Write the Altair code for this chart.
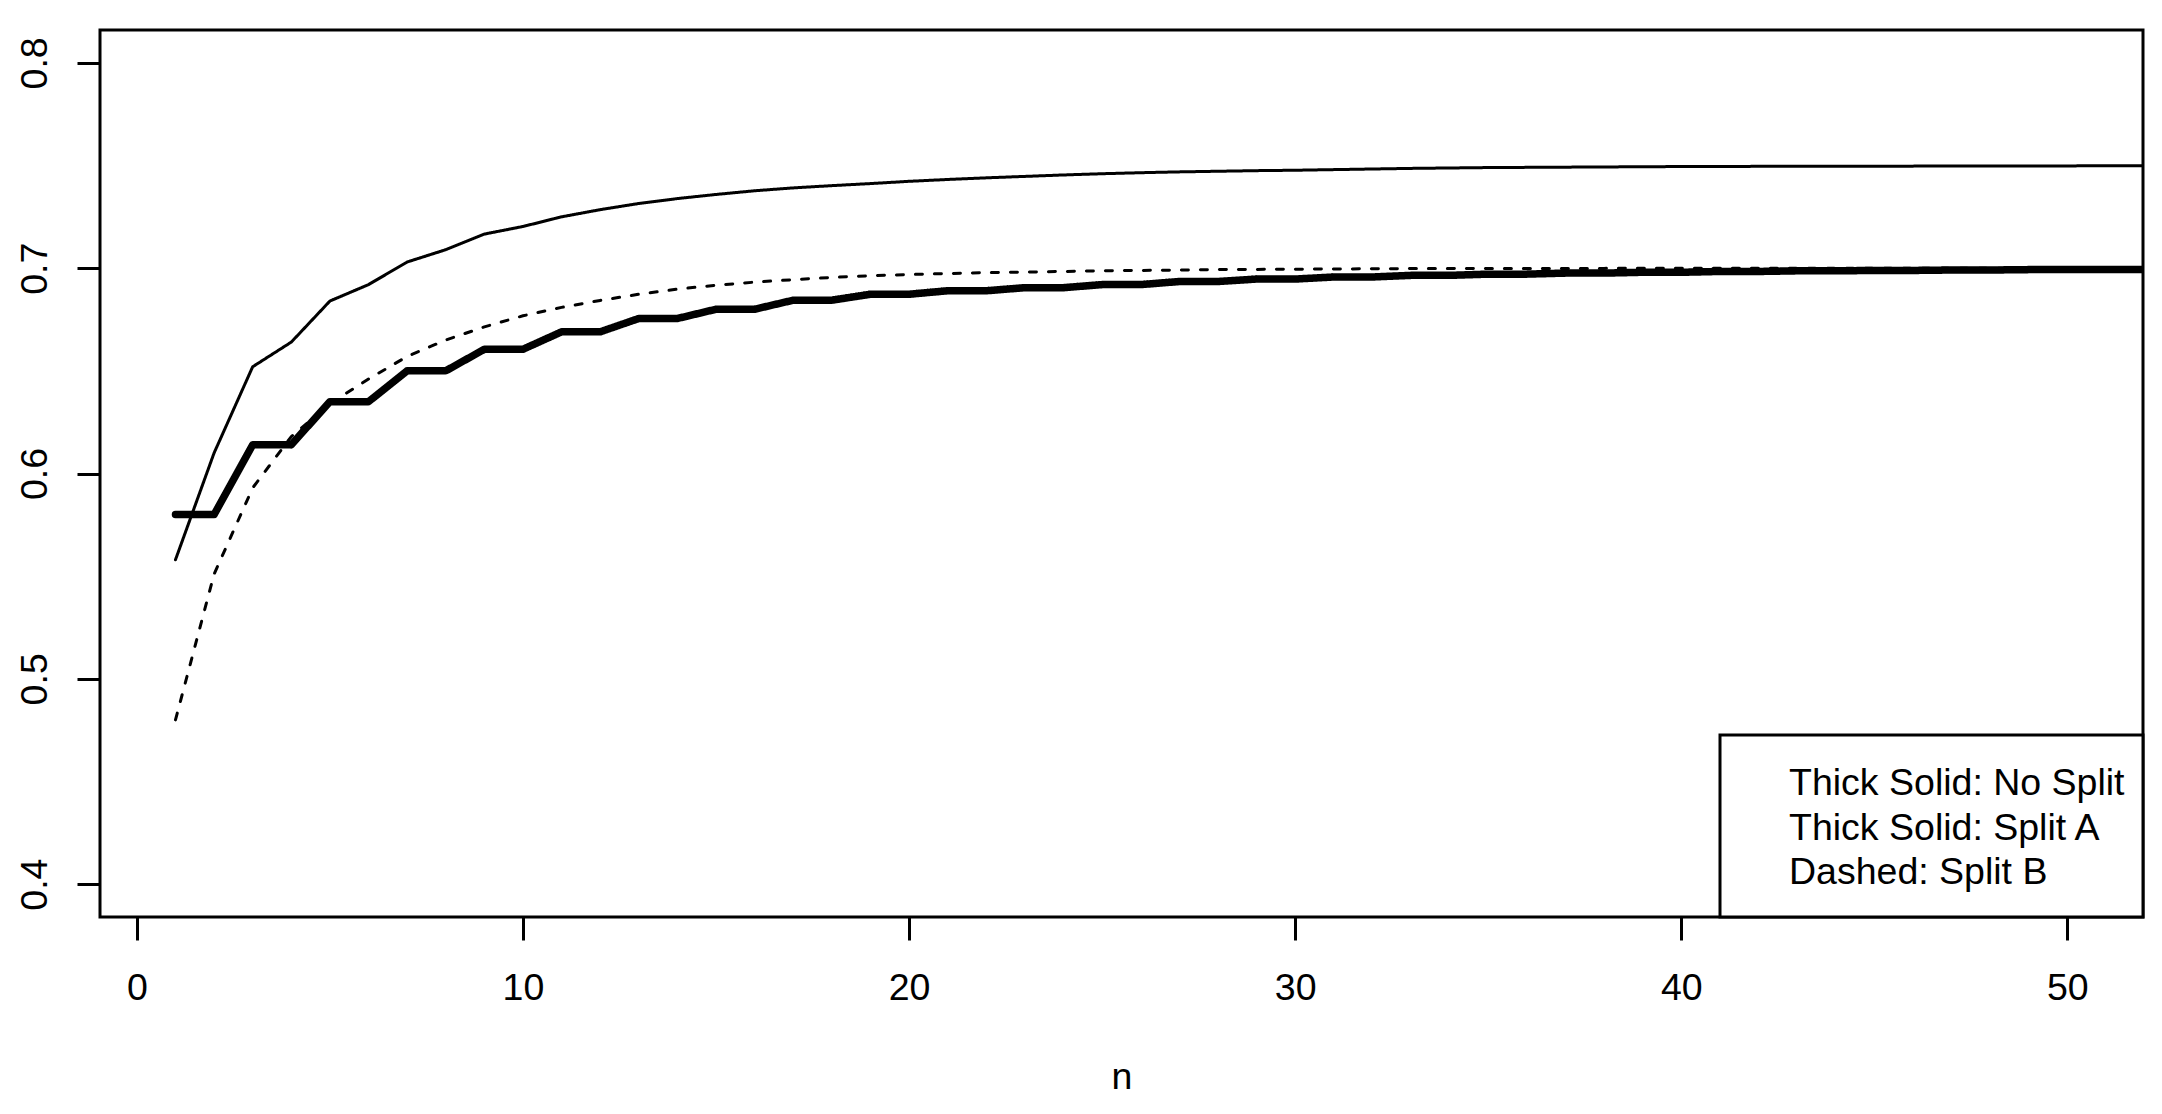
import altair as alt
import pandas as pd

# ---- data ----
n_values = list(range(1, 53))

no_split = [0.558, 0.610, 0.652, 0.664, 0.684, 0.692, 0.703, 0.709, 0.7166, 0.7203,
            0.7250, 0.7285, 0.7315, 0.7339, 0.7359, 0.7377, 0.7391, 0.7402, 0.7412, 0.7423,
            0.7432, 0.7440, 0.7447, 0.7454, 0.7460, 0.7465, 0.7469, 0.7472, 0.7475, 0.7477,
            0.7480, 0.7483, 0.7486, 0.7488, 0.7490, 0.7491, 0.7492, 0.7493, 0.7494, 0.7495,
            0.7495, 0.7496, 0.7496, 0.7497, 0.7497, 0.7497, 0.7498, 0.7498, 0.7498, 0.7498,
            0.7499, 0.7499]

split_a = [0.580, 0.580, 0.614, 0.614, 0.635, 0.635, 0.650, 0.650, 0.6605, 0.6605,
           0.669, 0.669, 0.6755, 0.6755, 0.680, 0.680, 0.6844, 0.6844, 0.6873, 0.6873,
           0.689, 0.689, 0.6905, 0.6905, 0.692, 0.692, 0.6935, 0.6935, 0.6947, 0.6947,
           0.6957, 0.6957, 0.6965, 0.6965, 0.6971, 0.6971, 0.6976, 0.6976, 0.698, 0.698,
           0.6984, 0.6984, 0.6987, 0.6987, 0.6989, 0.6989, 0.6991, 0.6991, 0.6993, 0.6993,
           0.6994, 0.6994]

split_b = [0.480, 0.551, 0.593, 0.618, 0.634, 0.646, 0.657, 0.665, 0.6714, 0.6768,
           0.6809, 0.6843, 0.6873, 0.6898, 0.6917, 0.6932, 0.6944, 0.6955, 0.6963, 0.6969,
           0.6974, 0.6978, 0.6981, 0.6984, 0.6987, 0.6989, 0.6991, 0.6993, 0.6994, 0.6995,
           0.6996, 0.6997, 0.6998, 0.6998, 0.6999, 0.6999, 0.6999, 0.6999, 0.7, 0.7,
           0.7, 0.7, 0.7, 0.7, 0.7, 0.7, 0.7, 0.7, 0.7, 0.7,
           0.7, 0.7]

legend_labels = ["Thick Solid: No Split", "Thick Solid: Split A", "Dashed: Split B"]
x_ticks = [0, 10, 20, 30, 40, 50]
y_ticks = [0.4, 0.5, 0.6, 0.7, 0.8]

df = pd.DataFrame({"n": n_values, "no_split": no_split,
                   "split_a": split_a, "split_b": split_b})

FONT = "Liberation Sans"
FS = 37.5
W, H = 2043, 887

x_scale = alt.Scale(domain=[-0.955, 51.96], nice=False, zero=False)
y_scale = alt.Scale(domain=[0.384, 0.816], nice=False, zero=False)

x_axis = alt.Axis(values=x_ticks, format="d", title="n", titleY=171,
                  titleBaseline="alphabetic", titleFont=FONT, titleFontSize=FS,
                  titleFontWeight="normal", titleColor="black",
                  labelBaseline="alphabetic", labelAlign="center", labelPadding=59)
y_axis = alt.Axis(values=y_ticks, format=".1f", title=None, labelAngle=270,
                  labelAlign="center", labelBaseline="alphabetic", labelPadding=31)


def line_layer(col, width, dash):
    return alt.Chart(df).mark_line(
        clip=True, color="black", strokeCap="round", strokeJoin="round",
        strokeWidth=width, strokeDash=dash
    ).encode(
        x=alt.X("n:Q", scale=x_scale, axis=x_axis),
        y=alt.Y(f"{col}:Q", scale=y_scale, axis=y_axis),
        order=alt.Order("n:Q"),
    )


dashed = line_layer("split_b", 3, [7, 12])
thin = line_layer("no_split", 3, [1, 0])
thick = line_layer("split_a", 7.5, [1, 0])

one = pd.DataFrame({"k": [0]})
legend_box = alt.Chart(one).mark_rect(fill="white", stroke="black", strokeWidth=3).encode(
    x=alt.value(1620), x2=alt.value(W), y=alt.value(705), y2=alt.value(H)
)
legend_text = alt.Chart(one).mark_text(
    font=FONT, fontSize=FS, align="left", baseline="alphabetic",
    lineHeight=44.6, color="black"
).encode(
    x=alt.value(1689), y=alt.value(765), text=alt.value(legend_labels)
)

chart = alt.layer(dashed, thin, thick, legend_box, legend_text).properties(
    width=W, height=H,
    autosize=alt.AutoSizeParams(type="none"),
    padding={"left": 92, "top": 22, "right": 5, "bottom": 185},
    background="white",
).configure_view(
    stroke="black", strokeWidth=3
).configure_axis(
    domain=False, grid=False, tickColor="black", tickWidth=3, tickSize=23,
    labelFont=FONT, labelFontSize=FS, labelColor="black",
)

chart.save("out.html", embed_options={"renderer": "svg", "actions": False})
